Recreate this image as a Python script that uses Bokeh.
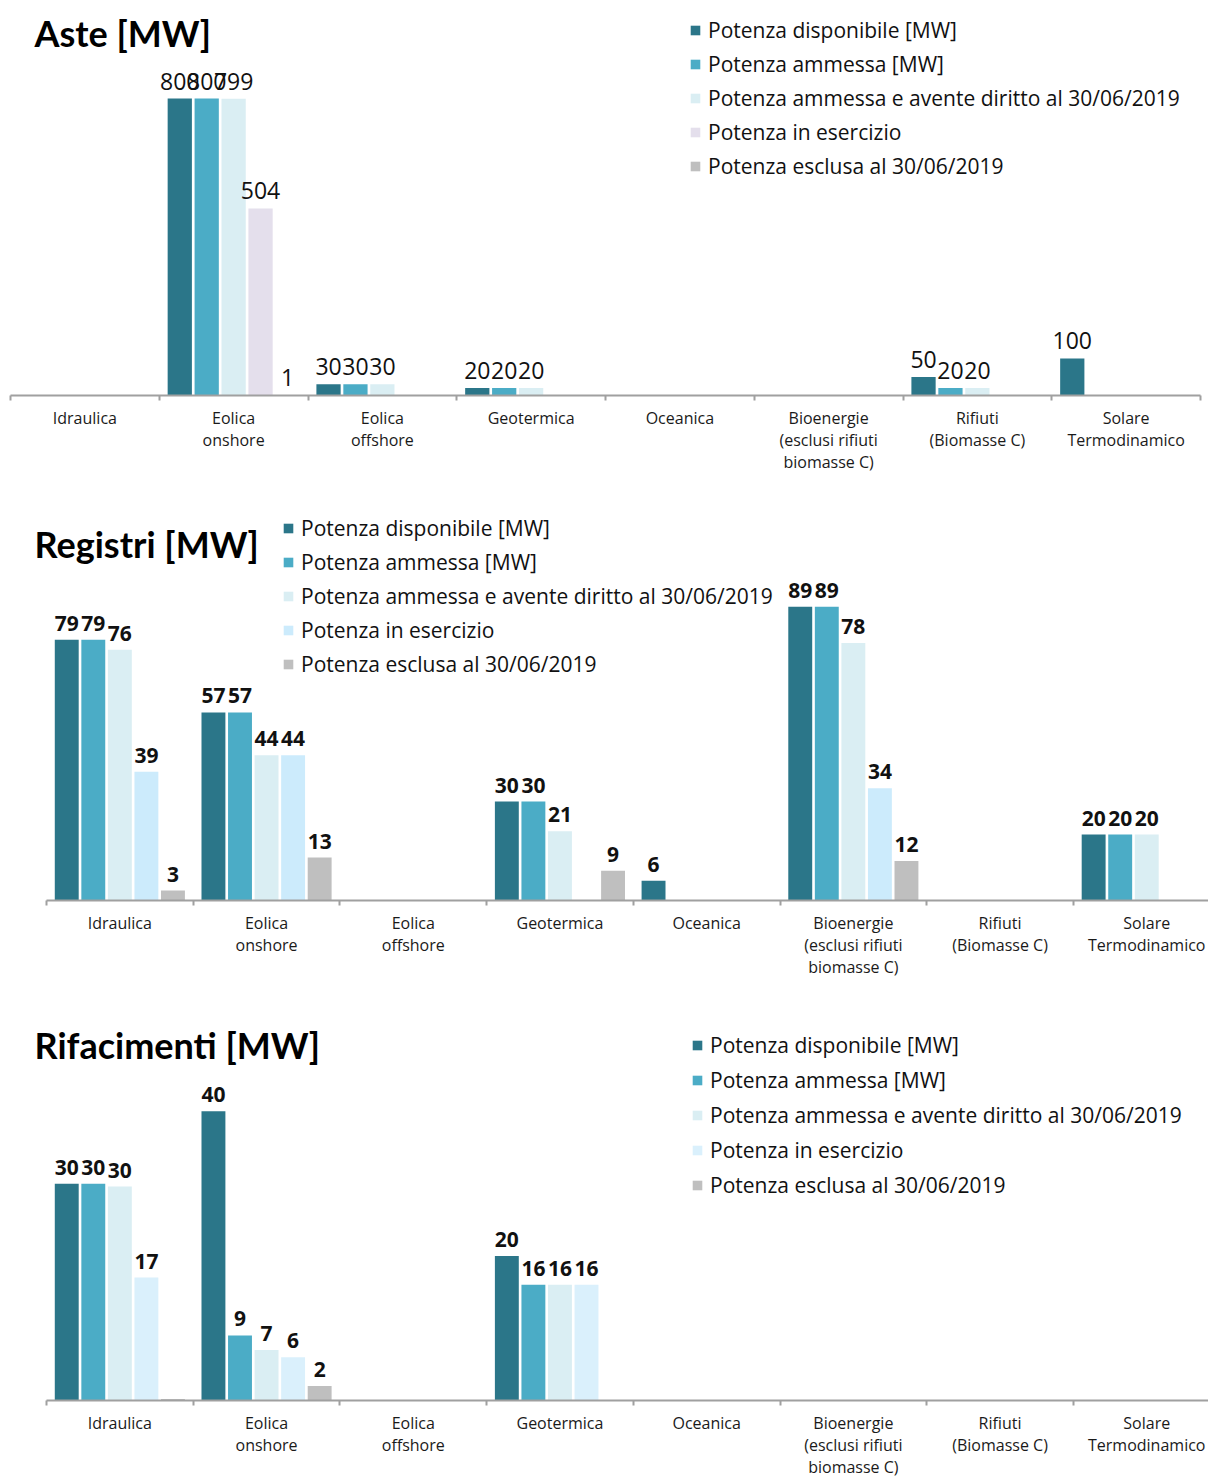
import numpy as np
from bokeh.plotting import figure
from bokeh.models import Range1d, FixedTicker, Legend, LegendItem, Label, ColumnDataSource
from bokeh.layouts import column
from bokeh.core.properties import value
from bokeh.embed import file_html
from bokeh.resources import INLINE

# ---------------- data ----------------
categories = ["Idraulica", "Eolica\nonshore", "Eolica\noffshore", "Geotermica", "Oceanica",
              "Bioenergie\n(esclusi rifiuti\nbiomasse C)", "Rifiuti\n(Biomasse C)", "Solare\nTermodinamico"]
series_names = ["Potenza disponibile [MW]", "Potenza ammessa [MW]",
                "Potenza ammessa e avente diritto al 30/06/2019",
                "Potenza in esercizio", "Potenza esclusa al 30/06/2019"]

aste_disponibile = [0, 800, 30, 20, 0, 0, 50, 100]
aste_ammessa = [0, 800, 30, 20, 0, 0, 20, 0]
aste_diritto = [0, 799, 30, 20, 0, 0, 20, 0]
aste_esercizio = [0, 504, 0, 0, 0, 0, 0, 0]
aste_esclusa = [0, 1, 0, 0, 0, 0, 0, 0]

registri_disponibile = [79, 57, 0, 30, 6, 89, 0, 20]
registri_ammessa = [79, 57, 0, 30, 0, 89, 0, 20]
registri_diritto = [76, 44, 0, 21, 0, 78, 0, 20]
registri_esercizio = [39, 44, 0, 0, 0, 34, 0, 0]
registri_esclusa = [3, 13, 0, 9, 0, 12, 0, 0]

rifac_disponibile = [30, 40, 0, 20, 0, 0, 0, 0]
rifac_ammessa = [30, 9, 0, 16, 0, 0, 0, 0]
rifac_diritto = [29.6, 7, 0, 16, 0, 0, 0, 0]
rifac_esercizio = [17, 6, 0, 16, 0, 0, 0, 0]
rifac_esclusa = [0.2, 2, 0, 0, 0, 0, 0, 0]

C_DISP = "#2B7689"
C_AMM = "#4BACC6"
C_DIR = "#DAEEF3"
C_ESC = "#BFBFBF"

W = 1208
FONT = "Open Sans"


def make_panel(title, series, colors, height, frame_h, x0_px, cat_px, ymax,
               legend_xy, legend_row_gap, title_xy, label_bold, label_size):
    start = -x0_px / cat_px
    p = figure(width=W, height=height, output_backend="svg", toolbar_location=None,
               x_range=Range1d(start, start + W / cat_px), y_range=Range1d(0, ymax),
               y_axis_location=None, min_border_left=0, min_border_right=0,
               min_border_top=0, min_border_bottom=height - frame_h)
    p.outline_line_color = None
    p.xgrid.visible = False
    p.ygrid.visible = False
    p.background_fill_color = "white"
    p.border_fill_color = "white"

    n = len(categories)
    centers = np.arange(n) + 0.5
    step = 0.181
    bw = 0.163
    items = []
    for s, (vals, col, name) in enumerate(zip(series, colors, series_names)):
        xs = centers + (s - 2) * step
        src = ColumnDataSource(dict(x=xs, top=vals))
        r = p.vbar(x="x", top="top", width=bw, source=src, fill_color=col, line_color=None)
        items.append(LegendItem(label=name, renderers=[r]))
        lx = [x for x, v in zip(xs, vals) if v >= 0.5]
        ly = [v for v in vals if v >= 0.5]
        lt = [str(int(round(v))) for v in vals if v >= 0.5]
        p.text(x=lx, y=ly, text=lt, text_align="center", text_baseline="bottom",
               y_offset=-9, text_font=value(FONT), text_font_size=label_size,
               text_font_style="bold" if label_bold else "normal", text_color="#111111")

    ax = p.xaxis[0]
    ax.ticker = FixedTicker(ticks=list(centers), minor_ticks=list(range(n + 1)))
    ax.major_label_overrides = {float(c): lab for c, lab in zip(centers, categories)}
    ax.bounds = (0, n)
    ax.major_tick_in = 0
    ax.major_tick_out = 0
    ax.minor_tick_in = 0
    ax.minor_tick_out = 5
    ax.minor_tick_line_color = "#A0A0A0"
    ax.minor_tick_line_width = 2
    ax.axis_line_color = "#A0A0A0"
    ax.axis_line_width = 2
    ax.major_label_text_font = FONT
    ax.major_label_text_font_size = "16px"
    ax.major_label_text_line_height = 1.02
    ax.major_label_text_color = "#1a1a1a"
    ax.major_label_standoff = 6

    legend = Legend(items=items, location=legend_xy, orientation="vertical",
                    glyph_width=12, glyph_height=12, label_standoff=7,
                    label_height=24, spacing=legend_row_gap, padding=0, margin=0,
                    border_line_color=None, background_fill_alpha=0,
                    label_text_font=FONT, label_text_font_size="21px",
                    label_text_color="#111111")
    p.add_layout(legend)

    p.add_layout(Label(x=title_xy[0], y=title_xy[1], x_units="screen", y_units="screen",
                       text=title, text_font="Lato", text_font_style="bold",
                       text_font_size="36px", text_color="#000000",
                       text_baseline="alphabetic"))
    return p


p1 = make_panel("Aste [MW]",
                [aste_disponibile, aste_ammessa, aste_diritto, aste_esercizio, aste_esclusa],
                [C_DISP, C_AMM, C_DIR, "#E4DFEC", C_ESC],
                height=490, frame_h=395, x0_px=10, cat_px=148.75, ymax=395 / 0.37125,
                legend_xy=(689, 215), legend_row_gap=6, title_xy=(34, 363),
                label_bold=False, label_size="23px")
p2 = make_panel("Registri  [MW]",
                [registri_disponibile, registri_ammessa, registri_diritto, registri_esercizio, registri_esclusa],
                [C_DISP, C_AMM, C_DIR, "#CCEBFC", C_ESC],
                height=505, frame_h=410, x0_px=46, cat_px=146.7, ymax=410 / 3.30,
                legend_xy=(282, 222), legend_row_gap=6, title_xy=(34, 357),
                label_bold=True, label_size="21px")
p3 = make_panel("Rifacimenti [MW]",
                [rifac_disponibile, rifac_ammessa, rifac_diritto, rifac_esercizio, rifac_esclusa],
                [C_DISP, C_AMM, C_DIR, "#DAF0FC", C_ESC],
                height=486, frame_h=409, x0_px=46, cat_px=146.7, ymax=409 / 7.3,
                legend_xy=(691, 201), legend_row_gap=7, title_xy=(34, 356),
                label_bold=True, label_size="21px")

layout = column(p1, p2, p3, spacing=0)
open("out.html", "w").write(file_html(layout, INLINE))
